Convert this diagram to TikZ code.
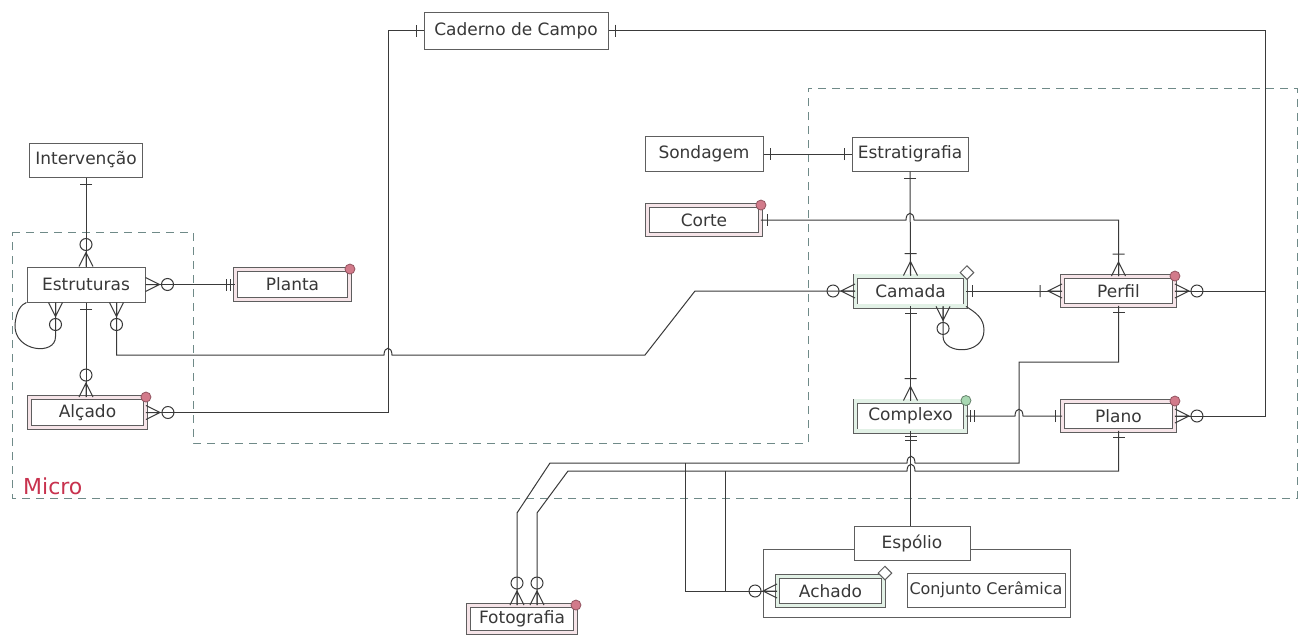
\documentclass[tikz,border=0pt]{standalone}
\usepackage{fontspec}
\setmainfont{DejaVu Sans}
\usetikzlibrary{calc,shapes.geometric}

\definecolor{boxgray}{HTML}{5E5E5E}
\definecolor{linegray}{HTML}{3A3A3A}
\definecolor{txtgray}{HTML}{383838}
\definecolor{dashteal}{HTML}{6F8A88}
\definecolor{markred}{HTML}{D27A8A}
\definecolor{markgreen}{HTML}{A8D8B2}
\definecolor{tintred}{HTML}{F6E4E8}
\definecolor{tintgreen}{HTML}{E2F1E6}
\definecolor{microred}{HTML}{C8324E}

\tikzset{
  ent/.style={draw=boxgray,fill=white,line width=0.5pt,inner sep=1pt,minimum height=17pt,
    text=txtgray,font=\fontsize{8.5}{10}\selectfont},
  weak/.style={ent,double=#1,double distance=1.6pt,line width=0.45pt},
  redmark/.style={circle,draw=markred!70!black,fill=markred,inner sep=0pt,minimum size=5pt,line width=0.4pt},
  greenmark/.style={circle,draw=markgreen!60!black,fill=markgreen,inner sep=0pt,minimum size=5pt,line width=0.4pt},
  diamark/.style={diamond,draw=boxgray,fill=white,inner sep=0pt,minimum size=7pt,line width=0.5pt},
  one/.pic={\draw (7,-6) -- (7,6);},
  two/.pic={\draw (5,-6) -- (5,6) (9,-6) -- (9,6);},
  zeromany/.pic={\draw (0,-7) -- (14,0) -- (0,7) (0,0) -- (14,0) (22,0) circle[radius=6];},
  onemany/.pic={\draw (0,-7) -- (14,0) -- (0,7) (0,0) -- (14,0) (22,-6) -- (22,6);},
}

\begin{document}
\begin{tikzpicture}[x=0.5pt,y=-0.5pt,line width=0.5pt,color=linegray]
  \fill[white] (0,0) rectangle (1308,637);
  \useasboundingbox (0,0) rectangle (1308,637);

  \draw[dashteal,dash pattern=on 4pt off 3pt] (12,232) -- (193,232) -- (193,443) -- (808,443) -- (808,88)
    -- (1297,88) -- (1297,498) -- (12,498) -- cycle;
  \node[text=microred,font=\fontsize{11}{13}\selectfont,anchor=west] (micro) at (16,486) {Micro};
  \draw[boxgray] (763,549) rectangle (1070,617);

  \node[ent,minimum width=92pt,minimum height=18.5pt] (cad) at (516,30.5) {Caderno de Campo};
  \node[ent,minimum width=56.5pt] (interv) at (86,160) {Intervenção};
  \node[ent,minimum width=59pt,minimum height=17.5pt] (estr) at (86,284.5) {Estruturas};
  \node[weak=tintred,minimum width=57pt,minimum height=15pt] (planta) at (292.5,284.5) {Planta};
  \node[weak=tintred,minimum width=58pt,minimum height=15pt] (alcado) at (87.5,412.5) {Alçado};
  \node[ent,minimum width=59pt,minimum height=17.5pt] (sond) at (704,154) {Sondagem};
  \node[ent,minimum width=58pt] (estrat) at (910,154) {Estratigrafia};
  \node[weak=tintred,minimum width=56.5pt,minimum height=14.5pt] (corte) at (704,220) {Corte};
  \node[weak=tintgreen,minimum width=55pt,minimum height=15pt] (camada) at (910.5,291) {Camada};
  \node[weak=tintred,minimum width=56pt,minimum height=14.5pt] (perfil) at (1118.5,291) {Perfil};
  \node[weak=tintgreen,minimum width=55pt,minimum height=15pt] (complexo) at (910.5,416) {Complexo};
  \node[weak=tintred,minimum width=56pt,minimum height=14.5pt] (plano) at (1118.5,416) {Plano};
  \node[ent,minimum width=58pt] (espolio) at (912,543.5) {Espólio};
  \node[weak=tintgreen,minimum width=53pt,minimum height=14.5pt] (achado) at (830.5,591) {Achado};
  \node[ent,minimum width=79pt,font=\fontsize{8}{10}\selectfont] (conjunto) at (986,590) {Conjunto Cerâmica};
  \node[weak=tintred,minimum width=53.5pt,minimum height=13.5pt] (foto) at (522,619) {Fotografia};

  \node[redmark] at (planta.north east) {};
  \node[redmark] at (alcado.north east) {};
  \node[redmark] at (corte.north east) {};
  \node[redmark] at (perfil.north east) {};
  \node[redmark] at (plano.north east) {};
  \node[redmark] at (foto.north east) {};
  \node[greenmark] at (complexo.north east) {};
  \node[diamark] at ($(camada.north east)+(1,-3)$) {};
  \node[diamark] at ($(achado.north east)+(1,-3)$) {};

  \draw (interv.south) -- (estr.north);
  \pic[rotate=-90] at (interv.south) {one};
  \pic[rotate=90] at (estr.north) {zeromany};

  \draw (estr.south) -- (estr.south |- alcado.north);
  \pic[rotate=-90] at (estr.south) {one};
  \pic[rotate=90] at (estr.south |- alcado.north) {zeromany};

  \draw (estr.east) -- (planta.west);
  \pic at (estr.east) {zeromany};
  \pic[rotate=180] at (planta.west) {two};

  \coordinate (sl) at ($(estr.south west)+(29,0)$);
  \draw (sl) -- ++(0,34) .. controls (56,356) and (14,352) .. (15,325)
    .. controls (16,310) and (22,304) .. (estr.south west);
  \pic[rotate=-90] at (sl) {zeromany};

  \coordinate (sc) at ($(estr.south west)+(90,0)$);
  \draw (sc) |- (384,355) .. controls +(0,-9) and +(0,-9) .. (392,355) -- (645,355) -- (695,291) -- (camada.west);
  \pic[rotate=-90] at (sc) {zeromany};
  \pic[rotate=180] at (camada.west) {zeromany};

  \draw (alcado.east) -- (388,412.5) |- (cad.west);
  \pic at (alcado.east) {zeromany};
  \pic[rotate=180] at (cad.west) {one};

  \draw (cad.east) -| (1265,416) -- (plano.east);
  \draw (perfil.east) -- (1265,291);
  \pic at (cad.east) {one};
  \pic at (perfil.east) {zeromany};
  \pic at (plano.east) {zeromany};

  \draw (sond.east) -- (estrat.west);
  \pic at (sond.east) {one};
  \pic[rotate=180] at (estrat.west) {one};

  \draw (estrat.south) -- (camada.north);
  \pic[rotate=-90] at (estrat.south) {one};
  \pic[rotate=90] at (camada.north) {onemany};

  \draw (corte.east) -- (906,220) .. controls +(0,-9) and +(0,-9) .. (914,220) -| (perfil.north);
  \pic at (corte.east) {one};
  \pic[rotate=90] at (perfil.north) {onemany};

  \draw (camada.east) -- (perfil.west);
  \pic at (camada.east) {one};
  \pic[rotate=180] at (perfil.west) {onemany};

  \coordinate (cl) at ($(camada.south west)+(88,0)$);
  \draw (cl) -- ++(0,30) .. controls +(0,18) and (984,356) .. (984,330)
    .. controls (984,318) and (975,312) .. (camada.south east);
  \pic[rotate=-90] at (cl) {zeromany};

  \draw (camada.south) -- (complexo.north);
  \pic[rotate=-90] at (camada.south) {one};
  \pic[rotate=90] at (complexo.north) {onemany};

  \draw (complexo.east) -- (1015,416) .. controls +(0,-9) and +(0,-9) .. (1023,416) -- (plano.west);
  \pic at (complexo.east) {two};
  \pic[rotate=180] at (plano.west) {one};

  \draw (complexo.south) -- (complexo.south |- espolio.north);
  \pic[rotate=-90] at (complexo.south) {two};

  \coordinate (fa) at ($(foto.north)+(-5,0)$);
  \coordinate (fb) at ($(foto.north)+(15,0)$);
  \draw (perfil.south) |- (1019,362) -- (1019,463) -- (915,463) .. controls +(0,-9) and +(0,-9) .. (907,463)
    -- (550,463) -- (517,513) -- (fa);
  \pic[rotate=-90] at (perfil.south) {one};
  \pic[rotate=90] at (fa) {zeromany};

  \draw (plano.south) |- (915,471) .. controls +(0,-9) and +(0,-9) .. (907,471)
    -- (568,471) -- (537,513) -- (fb);
  \pic[rotate=-90] at (plano.south) {one};
  \pic[rotate=90] at (fb) {zeromany};

  \draw (achado.west) -| (685,463);
  \draw (725,591) -- (725,471);
  \pic[rotate=180] at (achado.west) {zeromany};
\end{tikzpicture}
\end{document}
